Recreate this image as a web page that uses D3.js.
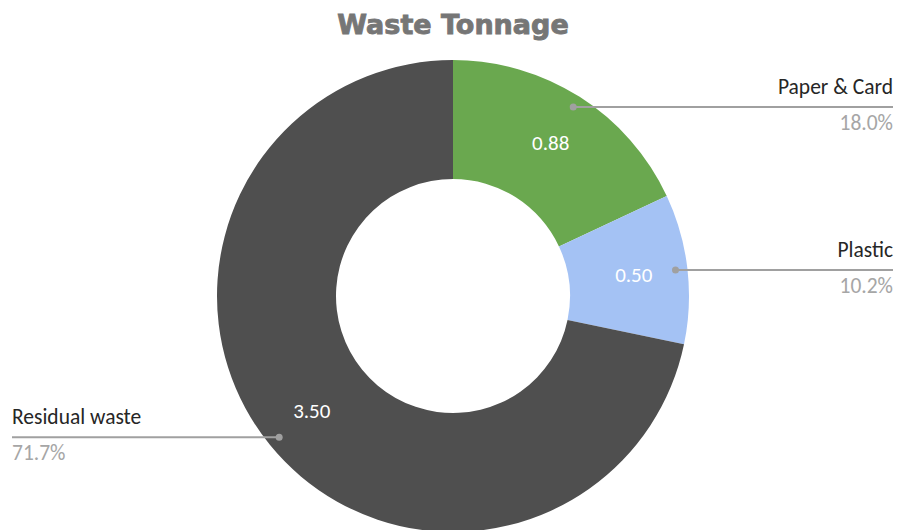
<!DOCTYPE html>
<html><head><meta charset="utf-8">
<script src="https://cdn.jsdelivr.net/npm/d3@7"></script>
<style>body{margin:0;background:#fff}svg{display:block}</style>
</head><body>
<svg id="c" width="898" height="530"></svg>
<script>
const categories = ["Paper & Card", "Plastic", "Residual waste"];
const values = [0.88, 0.50, 3.50];
const colors = ["#6aa84f", "#a4c2f4", "#4f4f4f"];
const title = "Waste Tonnage";

const svg = d3.select("#c");
const cx = 453, cy = 296, R = 236, r0 = 117;
const font = "Carlito, Lato, 'Open Sans', sans-serif";

svg.append("text").attr("x", cx).attr("y", 34).attr("text-anchor", "middle")
  .attr("font-family", "'DejaVu Sans', sans-serif").attr("font-weight", "bold")
  .attr("font-size", 27).attr("fill", "#767676")
  .attr("stroke", "#767676").attr("stroke-width", 0.9).text(title);

const total = d3.sum(values);
const data = categories.map((c, i) => ({cat: c, v: values[i], col: colors[i]}));
const pie = d3.pie().sort(null).value(d => d.v);
const arcs = pie(data);
const arc = d3.arc().innerRadius(r0).outerRadius(R);
const g = svg.append("g").attr("transform", `translate(${cx},${cy})`);
g.selectAll("path").data(arcs).join("path").attr("d", arc).attr("fill", d => d.data.col);

const pt = (a, rr) => [Math.sin(a) * rr, -Math.cos(a) * rr];

arcs.forEach(d => {
  const mid = (d.startAngle + d.endAngle) / 2;
  const [lx, ly] = pt(mid, 182);
  g.append("text").attr("x", lx).attr("y", ly).attr("dy", "0.35em").attr("text-anchor", "middle")
    .attr("font-family", font).attr("font-size", 21).attr("fill", "#fff")
    .text(d3.format(".2f")(d.data.v));
  const [dx, dy] = pt(mid, 224);
  const right = dx > 0;
  const endX = right ? 893 - cx : 12 - cx;
  g.append("line").attr("x1", dx).attr("y1", dy).attr("x2", endX).attr("y2", dy)
    .attr("stroke", "#a0a0a0").attr("stroke-width", 2);
  g.append("circle").attr("cx", dx).attr("cy", dy).attr("r", 3.5).attr("fill", "#a0a0a0");
  const anchor = right ? "end" : "start";
  g.append("text").attr("x", endX).attr("y", dy - 13).attr("text-anchor", anchor)
    .attr("font-family", font).attr("font-size", 21.5)
    .attr("fill", "#262626").text(d.data.cat);
  g.append("text").attr("x", endX).attr("y", dy + 23).attr("text-anchor", anchor)
    .attr("font-family", font).attr("font-size", 21.5)
    .attr("fill", "#a6a6a6")
    .text(d3.format(".1%")(d.data.v / total));
});
</script>
</body></html>
